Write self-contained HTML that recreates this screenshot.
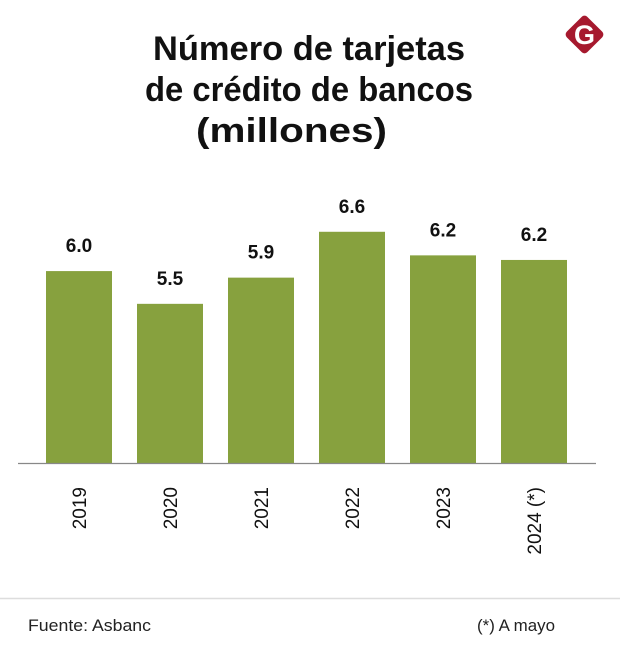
<!DOCTYPE html>
<html><head><meta charset="utf-8"><style>
body{margin:0;background:#fff;width:620px;height:665px;overflow:hidden;font-family:"Liberation Sans",sans-serif;}
</style></head><body>
<svg width="620" height="665" xmlns="http://www.w3.org/2000/svg">
<g font-family="Liberation Sans, sans-serif" font-weight="bold" font-size="34" fill="#111">
<text x="153" y="60" textLength="312" lengthAdjust="spacingAndGlyphs">Número de tarjetas</text>
<text x="145" y="101" textLength="328" lengthAdjust="spacingAndGlyphs">de crédito de bancos</text>
<text x="196" y="142" textLength="191" lengthAdjust="spacingAndGlyphs">(millones)</text>
</g>
<g>
<rect x="570" y="20" width="29" height="29" rx="4" fill="#a6192e" transform="rotate(45 584.5 34.5)"/>
<text x="584.5" y="44" text-anchor="middle" font-size="27" font-weight="bold" fill="#fff" font-family="Liberation Sans, sans-serif">G</text>
</g>
<g id="bars"></g>
<line x1="18" y1="463.5" x2="596" y2="463.5" stroke="#888" stroke-width="1.2"/>
<line x1="0" y1="598.5" x2="620" y2="598.5" stroke="#ddd" stroke-width="1.5"/>
<text x="28" y="631" font-size="17" fill="#222" textLength="123" lengthAdjust="spacingAndGlyphs">Fuente: Asbanc</text>
<text x="477" y="631" font-size="17" fill="#222" textLength="78" lengthAdjust="spacingAndGlyphs">(*) A mayo</text>
</svg>
<script>
const categories = ["2019","2020","2021","2022","2023","2024 (*)"];
const values = [6.0, 5.5, 5.9, 6.6, 6.24, 6.17];
const valueLabels = ["6.0","5.5","5.9","6.6","6.2","6.2"];
const NS="http://www.w3.org/2000/svg";
const baseY=463, yMin=3.07, pxPerUnit=65.5;
const yScale=v=>baseY-(v-yMin)*pxPerUnit;
const x0=46, step=91, bw=66;
const xScale=i=>x0+i*step;
const g=document.getElementById('bars');
categories.forEach((c,i)=>{
  const x=xScale(i), y=yScale(values[i]);
  const r=document.createElementNS(NS,'rect');
  r.setAttribute('x',x);r.setAttribute('y',y);r.setAttribute('width',bw);r.setAttribute('height',baseY-y);r.setAttribute('fill','#87a13e');
  
  
  g.appendChild(r);
  const t=document.createElementNS(NS,'text');
  t.setAttribute('x',x+bw/2);t.setAttribute('y',y-19);t.setAttribute('text-anchor','middle');
  t.setAttribute('font-size','19');t.setAttribute('font-weight','bold');t.setAttribute('fill','#111');
  t.textContent=valueLabels[i];
  
  
  g.appendChild(t);
  const l=document.createElementNS(NS,'text');
  const cx=x+bw/2+7;
  l.setAttribute('x',cx);l.setAttribute('y',487);l.setAttribute('text-anchor','end');
  l.setAttribute('font-size','19');l.setAttribute('fill','#111');
  l.setAttribute('transform','rotate(-90 '+cx+' 487)');
  l.textContent=c;
  
  
  g.appendChild(l);
});
</script>
</body></html>
